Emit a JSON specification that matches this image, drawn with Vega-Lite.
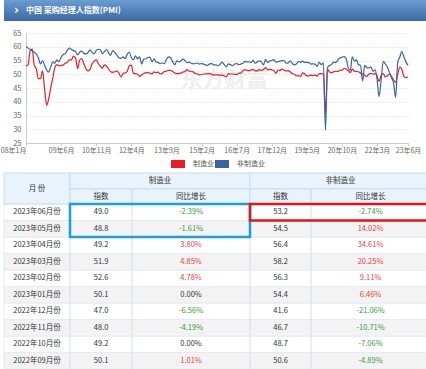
{
  "$schema": "https://vega.github.io/schema/vega-lite/v6.json",
  "padding": 0,
  "background": "white",
  "config": {"font": "Noto Sans CJK SC", "view": {"stroke": null}},
  "spacing": 12,
  "bounds": "flush",
  "resolve": {"legend": {"color": "independent", "stroke": "independent"}},
  "datasets": {
    "pmi": [
      {"m":"2008/01/01","制造业":53.0,"非制造业":60.1},{"m":"2008/02/01","制造业":53.4,"非制造业":59.5},{"m":"2008/03/01","制造业":58.4,"非制造业":59.0},{"m":"2008/04/01","制造业":59.2,"非制造业":58.5},{"m":"2008/05/01","制造业":53.3,"非制造业":58.0},{"m":"2008/06/01","制造业":52.0,"非制造业":57.3},{"m":"2008/07/01","制造业":48.4,"非制造业":56.0},{"m":"2008/08/01","制造业":48.4,"非制造业":53.8},{"m":"2008/09/01","制造业":51.2,"非制造业":55.0},{"m":"2008/10/01","制造业":44.6,"非制造业":53.2},{"m":"2008/11/01","制造业":38.8,"非制造业":51.5},{"m":"2008/12/01","制造业":41.2,"非制造业":50.8},
      {"m":"2009/01/01","制造业":45.3,"非制造业":52.8},{"m":"2009/02/01","制造业":49.0,"非制造业":54.5},{"m":"2009/03/01","制造业":52.4,"非制造业":54.0},{"m":"2009/04/01","制造业":53.5,"非制造业":55.2},{"m":"2009/05/01","制造业":53.1,"非制造业":54.6},{"m":"2009/06/01","制造业":53.2,"非制造业":56.1},{"m":"2009/07/01","制造业":53.3,"非制造业":57.2},{"m":"2009/08/01","制造业":54.0,"非制造业":57.5},{"m":"2009/09/01","制造业":54.3,"非制造业":58.7},{"m":"2009/10/01","制造业":55.2,"非制造业":59.5},{"m":"2009/11/01","制造业":55.2,"非制造业":59.0},{"m":"2009/12/01","制造业":56.6,"非制造业":58.6},
      {"m":"2010/01/01","制造业":55.8,"非制造业":58.3},{"m":"2010/02/01","制造业":52.0,"非制造业":57.0},{"m":"2010/03/01","制造业":55.1,"非制造业":58.0},{"m":"2010/04/01","制造业":55.7,"非制造业":58.4},{"m":"2010/05/01","制造业":53.9,"非制造业":57.6},{"m":"2010/06/01","制造业":52.1,"非制造业":57.4},{"m":"2010/07/01","制造业":51.2,"非制造业":57.8},{"m":"2010/08/01","制造业":51.7,"非制造业":58.9},{"m":"2010/09/01","制造业":53.8,"非制造业":57.9},{"m":"2010/10/01","制造业":54.7,"非制造业":57.4},{"m":"2010/11/01","制造业":55.2,"非制造业":58.7},{"m":"2010/12/01","制造业":53.9,"非制造业":59.1},
      {"m":"2011/01/01","制造业":52.9,"非制造业":58.9},{"m":"2011/02/01","制造业":52.2,"非制造业":57.5},{"m":"2011/03/01","制造业":53.4,"非制造业":58.2},{"m":"2011/04/01","制造业":52.9,"非制造业":59.0},{"m":"2011/05/01","制造业":52.0,"非制造业":57.8},{"m":"2011/06/01","制造业":50.9,"非制造业":56.9},{"m":"2011/07/01","制造业":50.7,"非制造业":58.6},{"m":"2011/08/01","制造业":50.9,"非制造业":58.0},{"m":"2011/09/01","制造业":51.2,"非制造业":57.0},{"m":"2011/10/01","制造业":50.4,"非制造业":56.0},{"m":"2011/11/01","制造业":49.0,"非制造业":55.8},{"m":"2011/12/01","制造业":50.3,"非制造业":56.3},
      {"m":"2012/01/01","制造业":50.5,"非制造业":55.7},{"m":"2012/02/01","制造业":51.0,"非制造业":57.3},{"m":"2012/03/01","制造业":53.1,"非制造业":58.0},{"m":"2012/04/01","制造业":53.3,"非制造业":56.1},{"m":"2012/05/01","制造业":50.4,"非制造业":55.2},{"m":"2012/06/01","制造业":50.2,"非制造业":56.7},{"m":"2012/07/01","制造业":50.1,"非制造业":55.6},{"m":"2012/08/01","制造业":49.2,"非制造业":56.3},{"m":"2012/09/01","制造业":49.8,"非制造业":53.7},{"m":"2012/10/01","制造业":50.2,"非制造业":55.5},{"m":"2012/11/01","制造业":50.6,"非制造业":55.6},{"m":"2012/12/01","制造业":50.6,"非制造业":56.1},
      {"m":"2013/01/01","制造业":50.4,"非制造业":56.2},{"m":"2013/02/01","制造业":50.1,"非制造业":54.5},{"m":"2013/03/01","制造业":50.9,"非制造业":55.6},{"m":"2013/04/01","制造业":50.6,"非制造业":54.5},{"m":"2013/05/01","制造业":50.8,"非制造业":54.3},{"m":"2013/06/01","制造业":50.1,"非制造业":53.9},{"m":"2013/07/01","制造业":50.3,"非制造业":54.1},{"m":"2013/08/01","制造业":51.0,"非制造业":53.9},{"m":"2013/09/01","制造业":51.1,"非制造业":55.4},{"m":"2013/10/01","制造业":51.4,"非制造业":56.3},{"m":"2013/11/01","制造业":51.4,"非制造业":56.0},{"m":"2013/12/01","制造业":51.0,"非制造业":54.6},
      {"m":"2014/01/01","制造业":50.5,"非制造业":53.4},{"m":"2014/02/01","制造业":50.2,"非制造业":55.0},{"m":"2014/03/01","制造业":50.3,"非制造业":54.5},{"m":"2014/04/01","制造业":50.4,"非制造业":54.8},{"m":"2014/05/01","制造业":50.8,"非制造业":55.5},{"m":"2014/06/01","制造业":51.0,"非制造业":55.0},{"m":"2014/07/01","制造业":51.7,"非制造业":54.2},{"m":"2014/08/01","制造业":51.1,"非制造业":54.4},{"m":"2014/09/01","制造业":51.1,"非制造业":54.0},{"m":"2014/10/01","制造业":50.8,"非制造业":53.8},{"m":"2014/11/01","制造业":50.3,"非制造业":53.9},{"m":"2014/12/01","制造业":50.1,"非制造业":54.1},
      {"m":"2015/01/01","制造业":49.8,"非制造业":53.7},{"m":"2015/02/01","制造业":49.9,"非制造业":53.9},{"m":"2015/03/01","制造业":50.1,"非制造业":53.7},{"m":"2015/04/01","制造业":50.1,"非制造业":53.4},{"m":"2015/05/01","制造业":50.2,"非制造业":53.2},{"m":"2015/06/01","制造业":50.2,"非制造业":53.8},{"m":"2015/07/01","制造业":50.0,"非制造业":53.9},{"m":"2015/08/01","制造业":49.7,"非制造业":53.4},{"m":"2015/09/01","制造业":49.8,"非制造业":53.4},{"m":"2015/10/01","制造业":49.8,"非制造业":53.1},{"m":"2015/11/01","制造业":49.6,"非制造业":53.6},{"m":"2015/12/01","制造业":49.7,"非制造业":54.4},
      {"m":"2016/01/01","制造业":49.4,"非制造业":53.5},{"m":"2016/02/01","制造业":49.0,"非制造业":52.7},{"m":"2016/03/01","制造业":50.2,"非制造业":53.8},{"m":"2016/04/01","制造业":50.1,"非制造业":53.5},{"m":"2016/05/01","制造业":50.1,"非制造业":53.1},{"m":"2016/06/01","制造业":50.0,"非制造业":53.7},{"m":"2016/07/01","制造业":49.9,"非制造业":53.9},{"m":"2016/08/01","制造业":50.4,"非制造业":53.5},{"m":"2016/09/01","制造业":50.4,"非制造业":53.7},{"m":"2016/10/01","制造业":51.2,"非制造业":54.0},{"m":"2016/11/01","制造业":51.7,"非制造业":54.7},{"m":"2016/12/01","制造业":51.4,"非制造业":54.5},
      {"m":"2017/01/01","制造业":51.3,"非制造业":54.6},{"m":"2017/02/01","制造业":51.6,"非制造业":54.2},{"m":"2017/03/01","制造业":51.8,"非制造业":55.1},{"m":"2017/04/01","制造业":51.2,"非制造业":54.0},{"m":"2017/05/01","制造业":51.2,"非制造业":54.5},{"m":"2017/06/01","制造业":51.7,"非制造业":54.9},{"m":"2017/07/01","制造业":51.4,"非制造业":54.5},{"m":"2017/08/01","制造业":51.7,"非制造业":53.4},{"m":"2017/09/01","制造业":52.4,"非制造业":55.4},{"m":"2017/10/01","制造业":51.6,"非制造业":54.3},{"m":"2017/11/01","制造业":51.8,"非制造业":54.8},{"m":"2017/12/01","制造业":51.6,"非制造业":55.0},
      {"m":"2018/01/01","制造业":51.3,"非制造业":55.3},{"m":"2018/02/01","制造业":50.3,"非制造业":54.4},{"m":"2018/03/01","制造业":51.5,"非制造业":54.6},{"m":"2018/04/01","制造业":51.4,"非制造业":54.8},{"m":"2018/05/01","制造业":51.9,"非制造业":54.9},{"m":"2018/06/01","制造业":51.5,"非制造业":55.0},{"m":"2018/07/01","制造业":51.2,"非制造业":54.0},{"m":"2018/08/01","制造业":51.3,"非制造业":54.2},{"m":"2018/09/01","制造业":50.8,"非制造业":54.9},{"m":"2018/10/01","制造业":50.2,"非制造业":53.9},{"m":"2018/11/01","制造业":50.0,"非制造业":53.4},{"m":"2018/12/01","制造业":49.4,"非制造业":53.8},
      {"m":"2019/01/01","制造业":49.5,"非制造业":54.7},{"m":"2019/02/01","制造业":49.2,"非制造业":54.3},{"m":"2019/03/01","制造业":50.5,"非制造业":54.8},{"m":"2019/04/01","制造业":50.1,"非制造业":54.3},{"m":"2019/05/01","制造业":49.4,"非制造业":54.3},{"m":"2019/06/01","制造业":49.4,"非制造业":54.2},{"m":"2019/07/01","制造业":49.7,"非制造业":53.7},{"m":"2019/08/01","制造业":49.5,"非制造业":53.8},{"m":"2019/09/01","制造业":49.8,"非制造业":53.7},{"m":"2019/10/01","制造业":49.3,"非制造业":52.8},{"m":"2019/11/01","制造业":50.2,"非制造业":54.4},{"m":"2019/12/01","制造业":50.2,"非制造业":53.5},
      {"m":"2020/01/01","制造业":50.0,"非制造业":54.1},{"m":"2020/02/01","制造业":35.7,"非制造业":29.6},{"m":"2020/03/01","制造业":52.0,"非制造业":52.3},{"m":"2020/04/01","制造业":50.8,"非制造业":53.2},{"m":"2020/05/01","制造业":50.6,"非制造业":53.6},{"m":"2020/06/01","制造业":50.9,"非制造业":54.4},{"m":"2020/07/01","制造业":51.1,"非制造业":54.2},{"m":"2020/08/01","制造业":51.0,"非制造业":55.2},{"m":"2020/09/01","制造业":51.5,"非制造业":55.9},{"m":"2020/10/01","制造业":51.4,"非制造业":56.2},{"m":"2020/11/01","制造业":52.1,"非制造业":56.4},{"m":"2020/12/01","制造业":51.9,"非制造业":55.7},
      {"m":"2021/01/01","制造业":51.3,"非制造业":52.4},{"m":"2021/02/01","制造业":50.6,"非制造业":51.4},{"m":"2021/03/01","制造业":51.9,"非制造业":56.3},{"m":"2021/04/01","制造业":51.1,"非制造业":54.9},{"m":"2021/05/01","制造业":51.0,"非制造业":55.2},{"m":"2021/06/01","制造业":50.9,"非制造业":53.5},{"m":"2021/07/01","制造业":50.4,"非制造业":53.3},{"m":"2021/08/01","制造业":50.1,"非制造业":47.5},{"m":"2021/09/01","制造业":49.6,"非制造业":53.2},{"m":"2021/10/01","制造业":49.2,"非制造业":52.4},{"m":"2021/11/01","制造业":50.1,"非制造业":52.3},{"m":"2021/12/01","制造业":50.3,"非制造业":52.7},
      {"m":"2022/01/01","制造业":50.1,"非制造业":51.1},{"m":"2022/02/01","制造业":50.2,"非制造业":51.6},{"m":"2022/03/01","制造业":49.5,"非制造业":48.4},{"m":"2022/04/01","制造业":47.4,"非制造业":41.9},{"m":"2022/05/01","制造业":49.6,"非制造业":47.8},{"m":"2022/06/01","制造业":50.2,"非制造业":54.7},{"m":"2022/07/01","制造业":49.0,"非制造业":53.8},{"m":"2022/08/01","制造业":49.4,"非制造业":52.6},{"m":"2022/09/01","制造业":50.1,"非制造业":50.6},{"m":"2022/10/01","制造业":49.2,"非制造业":48.7},{"m":"2022/11/01","制造业":48.0,"非制造业":46.7},{"m":"2022/12/01","制造业":47.0,"非制造业":41.6},
      {"m":"2023/01/01","制造业":50.1,"非制造业":54.4},{"m":"2023/02/01","制造业":52.6,"非制造业":56.3},{"m":"2023/03/01","制造业":51.9,"非制造业":58.2},{"m":"2023/04/01","制造业":49.2,"非制造业":56.4},{"m":"2023/05/01","制造业":48.8,"非制造业":54.5},{"m":"2023/06/01","制造业":49.0,"非制造业":53.2}
    ],
    "cells": [
      {"r":-1.5,"c":0,"t":"月 份"},{"r":-2,"c":1.5,"t":"制造业"},{"r":-2,"c":3.5,"t":"非制造业"},
      {"r":-1,"c":1,"t":"指数"},{"r":-1,"c":2,"t":"同比增长"},{"r":-1,"c":3,"t":"指数"},{"r":-1,"c":4,"t":"同比增长"},
      {"r":0,"c":0,"t":"2023年06月份"},{"r":0,"c":1,"t":"49.0"},{"r":0,"c":2,"t":"-2.39%"},{"r":0,"c":3,"t":"53.2"},{"r":0,"c":4,"t":"-2.74%"},
      {"r":1,"c":0,"t":"2023年05月份"},{"r":1,"c":1,"t":"48.8"},{"r":1,"c":2,"t":"-1.61%"},{"r":1,"c":3,"t":"54.5"},{"r":1,"c":4,"t":"14.02%"},
      {"r":2,"c":0,"t":"2023年04月份"},{"r":2,"c":1,"t":"49.2"},{"r":2,"c":2,"t":"3.80%"},{"r":2,"c":3,"t":"56.4"},{"r":2,"c":4,"t":"34.61%"},
      {"r":3,"c":0,"t":"2023年03月份"},{"r":3,"c":1,"t":"51.9"},{"r":3,"c":2,"t":"4.85%"},{"r":3,"c":3,"t":"58.2"},{"r":3,"c":4,"t":"20.25%"},
      {"r":4,"c":0,"t":"2023年02月份"},{"r":4,"c":1,"t":"52.6"},{"r":4,"c":2,"t":"4.78%"},{"r":4,"c":3,"t":"56.3"},{"r":4,"c":4,"t":"9.11%"},
      {"r":5,"c":0,"t":"2023年01月份"},{"r":5,"c":1,"t":"50.1"},{"r":5,"c":2,"t":"0.00%"},{"r":5,"c":3,"t":"54.4"},{"r":5,"c":4,"t":"6.46%"},
      {"r":6,"c":0,"t":"2022年12月份"},{"r":6,"c":1,"t":"47.0"},{"r":6,"c":2,"t":"-6.56%"},{"r":6,"c":3,"t":"41.6"},{"r":6,"c":4,"t":"-21.06%"},
      {"r":7,"c":0,"t":"2022年11月份"},{"r":7,"c":1,"t":"48.0"},{"r":7,"c":2,"t":"-4.19%"},{"r":7,"c":3,"t":"46.7"},{"r":7,"c":4,"t":"-10.71%"},
      {"r":8,"c":0,"t":"2022年10月份"},{"r":8,"c":1,"t":"49.2"},{"r":8,"c":2,"t":"0.00%"},{"r":8,"c":3,"t":"48.7"},{"r":8,"c":4,"t":"-7.06%"},
      {"r":9,"c":0,"t":"2022年09月份"},{"r":9,"c":1,"t":"50.1"},{"r":9,"c":2,"t":"1.01%"},{"r":9,"c":3,"t":"50.6"},{"r":9,"c":4,"t":"-4.89%"}
    ],
    "rows": [{"r":0},{"r":1},{"r":2},{"r":3},{"r":4},{"r":5},{"r":6},{"r":7},{"r":8},{"r":9}],
    "bounds": [{"b":1},{"b":2},{"b":3},{"b":4}],
    "heads": [
      {"c":0,"c2":1,"r":-2,"r2":0},{"c":1,"c2":3,"r":-2,"r2":-1},{"c":3,"c2":5,"r":-2,"r2":-1},
      {"c":1,"c2":2,"r":-1,"r2":0},{"c":2,"c2":3,"r":-1,"r2":0},{"c":3,"c2":4,"r":-1,"r2":0},{"c":4,"c2":5,"r":-1,"r2":0}
    ],
    "boxes": [{"box":"制造业","c":1,"c2":3,"r":0,"r2":2},{"box":"非制造业","c":3,"c2":5,"r":0,"r2":1}]
  },
  "vconcat": [
    {
      "width": 426,
      "height": 21,
      "data": {"values": [{"icon": "›", "title": "中国 采购经理人指数(PMI)"}]},
      "layer": [
        {
          "mark": {"type": "rect", "color": {"gradient": "linear", "x1": 0, "y1": 0, "x2": 0, "y2": 1, "stops": [{"offset": 0, "color": "#6a9dd2"}, {"offset": 1, "color": "#3b69a4"}]}},
          "encoding": {}
        },
        {
          "mark": {"type": "text", "align": "left", "baseline": "middle", "color": "white", "fontSize": 12, "fontWeight": "bold", "font": "DejaVu Sans"},
          "encoding": {"text": {"field": "icon"}, "x": {"value": 10}, "y": {"value": 10}}
        },
        {
          "mark": {"type": "text", "align": "left", "baseline": "middle", "color": "white", "fontSize": 8, "fontWeight": "bold", "font": "Noto Sans CJK SC"},
          "encoding": {"text": {"field": "title"}, "x": {"value": 22}, "y": {"value": 10.5}}
        }
      ]
    },
    {
      "spacing": 30,
      "bounds": "flush",
      "resolve": {"legend": {"color": "independent", "stroke": "independent"}},
      "vconcat": [
        {
          "width": 404,
          "height": 110,
          "layer": [
            {
              "data": {"values": [{"w": "东方财富"}]},
              "mark": {"type": "text", "fontSize": 22, "fontWeight": "bold", "color": "#efefef", "align": "center", "baseline": "middle", "font": "Noto Sans CJK SC"},
              "encoding": {
                "x": {
                  "datum": {"year": 2016, "month": 1, "date": 1}, "type": "temporal",
                  "scale": {"domain": [{"year": 2008, "month": 1, "date": 1}, {"year": 2023, "month": 6, "date": 1}], "range": [22, 404]},
                  "axis": {
                    "values": [
                      {"year": 2008, "month": 1, "date": 1}, {"year": 2009, "month": 6, "date": 1}, {"year": 2010, "month": 11, "date": 1},
                      {"year": 2012, "month": 4, "date": 1}, {"year": 2013, "month": 9, "date": 1}, {"year": 2015, "month": 2, "date": 1},
                      {"year": 2016, "month": 7, "date": 1}, {"year": 2017, "month": 12, "date": 1}, {"year": 2019, "month": 5, "date": 1},
                      {"year": 2020, "month": 10, "date": 1}, {"year": 2022, "month": 3, "date": 1}, {"year": 2023, "month": 6, "date": 1}
                    ],
                    "format": "%y年%-m月", "title": null, "grid": false, "labelFontSize": 7, "labelColor": "#666",
                    "labelAlign": {"condition": {"test": "datum.index == 0", "value": "right"}, "value": "center"},
                    "domainColor": "#ccc", "tickColor": "#ccc", "tickSize": 3, "labelPadding": 0, "labelOverlap": false, "labelFlush": false
                  }
                },
                "y": {
                  "datum": 47.9, "type": "quantitative",
                  "scale": {"domain": [25, 65], "nice": false, "zero": false},
                  "axis": {
                    "values": [25, 30, 35, 40, 45, 50, 55, 60, 65], "title": null, "grid": true, "gridDash": [1, 2], "gridColor": "#d4d4d4",
                    "ticks": false, "domainColor": "#ccc", "labelFontSize": 7.5, "labelColor": "#666", "labelPadding": 5, "offset": -22
                  }
                },
                "text": {"field": "w"}
              }
            },
            {
              "data": {"name": "pmi"},
              "transform": [{"fold": ["制造业", "非制造业"], "as": ["k", "v"]}],
              "mark": {"type": "line", "strokeWidth": 1.2, "interpolate": "monotone"},
              "encoding": {
                "x": {
                  "field": "m", "type": "temporal",
                  "scale": {"domain": [{"year": 2008, "month": 1, "date": 1}, {"year": 2023, "month": 6, "date": 1}], "range": [22, 404]},
                  "axis": {
                    "values": [
                      {"year": 2008, "month": 1, "date": 1}, {"year": 2009, "month": 6, "date": 1}, {"year": 2010, "month": 11, "date": 1},
                      {"year": 2012, "month": 4, "date": 1}, {"year": 2013, "month": 9, "date": 1}, {"year": 2015, "month": 2, "date": 1},
                      {"year": 2016, "month": 7, "date": 1}, {"year": 2017, "month": 12, "date": 1}, {"year": 2019, "month": 5, "date": 1},
                      {"year": 2020, "month": 10, "date": 1}, {"year": 2022, "month": 3, "date": 1}, {"year": 2023, "month": 6, "date": 1}
                    ],
                    "format": "%y年%-m月", "title": null, "grid": false, "labelFontSize": 7, "labelColor": "#666",
                    "labelAlign": {"condition": {"test": "datum.index == 0", "value": "right"}, "value": "center"},
                    "domainColor": "#ccc", "tickColor": "#ccc", "tickSize": 3, "labelPadding": 0, "labelOverlap": false, "labelFlush": false
                  }
                },
                "y": {
                  "field": "v", "type": "quantitative",
                  "scale": {"domain": [25, 65], "nice": false, "zero": false},
                  "axis": {
                    "values": [25, 30, 35, 40, 45, 50, 55, 60, 65], "title": null, "grid": true, "gridDash": [1, 2], "gridColor": "#d4d4d4",
                    "ticks": false, "domainColor": "#ccc", "labelFontSize": 7.5, "labelColor": "#666", "labelPadding": 5, "offset": -22
                  }
                },
                "color": {
                  "field": "k", "type": "nominal",
                  "scale": {"domain": ["制造业", "非制造业"], "range": ["#ea1c24", "#3a62a7"]},
                  "legend": {
                    "orient": "none", "legendX": 163, "legendY": 120, "direction": "horizontal", "title": null, "symbolType": "stroke", "symbolStrokeWidth": 8, "symbolSize": 196,
                    "labelFontSize": 7, "labelColor": "#555", "columnPadding": -15, "gridAlign": "none", "labelOffset": 4, "padding": 0
                  }
                }
              }
            }
          ]
        },
        {
          "width": 426,
          "height": 196,
          "resolve": {"scale": {"x": "independent", "y": "independent", "color": "independent"}},
          "layer": [
            {
              "data": {"name": "rows"},
              "mark": {"type": "rect", "fill": "white", "stroke": "#e3ecf5", "strokeWidth": 1},
              "encoding": {
                "y": {"field": "r", "type": "ordinal", "scale": {"domain": [0, 1, 2, 3, 4, 5, 6, 7, 8, 9], "range": [31, 196], "paddingInner": 0, "paddingOuter": 0}, "axis": null}
              }
            },
            {
              "data": {"name": "rows"},
              "transform": [{"filter": "datum.r % 2 == 1"}],
              "mark": {"type": "rect", "fill": "#f3f3f3", "stroke": "#e3ecf5", "strokeWidth": 1},
              "encoding": {
                "y": {"field": "r", "type": "ordinal", "scale": {"domain": [0, 1, 2, 3, 4, 5, 6, 7, 8, 9], "range": [31, 196], "paddingInner": 0, "paddingOuter": 0}, "axis": null}
              }
            },
            {
              "data": {"name": "bounds"},
              "mark": {"type": "rule", "color": "#cfe0f0", "strokeWidth": 1},
              "encoding": {
                "x": {"field": "b", "type": "quantitative", "scale": {"domain": [0, 1, 2, 3, 4, 5], "range": [0, 66, 128, 246, 307, 426], "nice": false, "zero": false}, "axis": null}
              }
            },
            {
              "data": {"name": "heads"},
              "mark": {"type": "rect", "fill": "#e9f3fb", "stroke": "#c9ddf0", "strokeWidth": 1},
              "encoding": {
                "x": {"field": "c", "type": "quantitative", "scale": {"domain": [0, 1, 2, 3, 4, 5], "range": [0, 66, 128, 246, 307, 426], "nice": false, "zero": false}, "axis": null},
                "x2": {"field": "c2"},
                "y": {"field": "r", "type": "quantitative", "scale": {"domain": [-2, -1, 0, 10], "range": [0, 16, 31, 196], "nice": false, "zero": false}, "axis": null},
                "y2": {"field": "r2"}
              }
            },
            {
              "data": {"name": "boxes"},
              "mark": {"type": "rect", "fill": null, "fillOpacity": 0, "strokeWidth": 2.5},
              "encoding": {
                "x": {"field": "c", "type": "quantitative", "scale": {"domain": [0, 1, 2, 3, 4, 5], "range": [0, 66, 128, 246, 307, 426], "nice": false, "zero": false}, "axis": null},
                "x2": {"field": "c2"},
                "y": {"field": "r", "type": "quantitative", "scale": {"domain": [-2, -1, 0, 10], "range": [0, 16, 31, 196], "nice": false, "zero": false}, "axis": null},
                "y2": {"field": "r2"},
                "stroke": {"field": "box", "type": "nominal", "scale": {"domain": ["制造业", "非制造业"], "range": ["#1a9fe0", "#e3131b"]}, "legend": null}
              }
            },
            {
              "data": {"name": "cells"},
              "mark": {"type": "text", "fontSize": 7.5, "font": "Noto Sans CJK SC", "align": "center", "baseline": "middle"},
              "encoding": {
                "x": {"field": "c", "type": "quantitative", "scale": {"domain": [0, 1, 1.5, 2, 3, 3.5, 4], "range": [33, 97, 156, 187, 276.5, 336.5, 366.5], "nice": false, "zero": false}, "axis": null},
                "y": {"field": "r", "type": "quantitative", "scale": {"domain": [-2, -1.5, -1, 0, 9], "range": [8, 15.5, 23.5, 39.25, 187.75], "nice": false, "zero": false}, "axis": null},
                "text": {"field": "t"},
                "color": {
                  "condition": [
                    {"test": "indexof(datum.t, '-') == 0", "value": "#3a9a3a"},
                    {"test": "datum.r >= 0 && (datum.c == 2 || datum.c == 4) && datum.t != '0.00%'", "value": "#f23a3a"}
                  ],
                  "value": "#333333"
                }
              }
            }
          ]
        }
      ]
    }
  ]
}
